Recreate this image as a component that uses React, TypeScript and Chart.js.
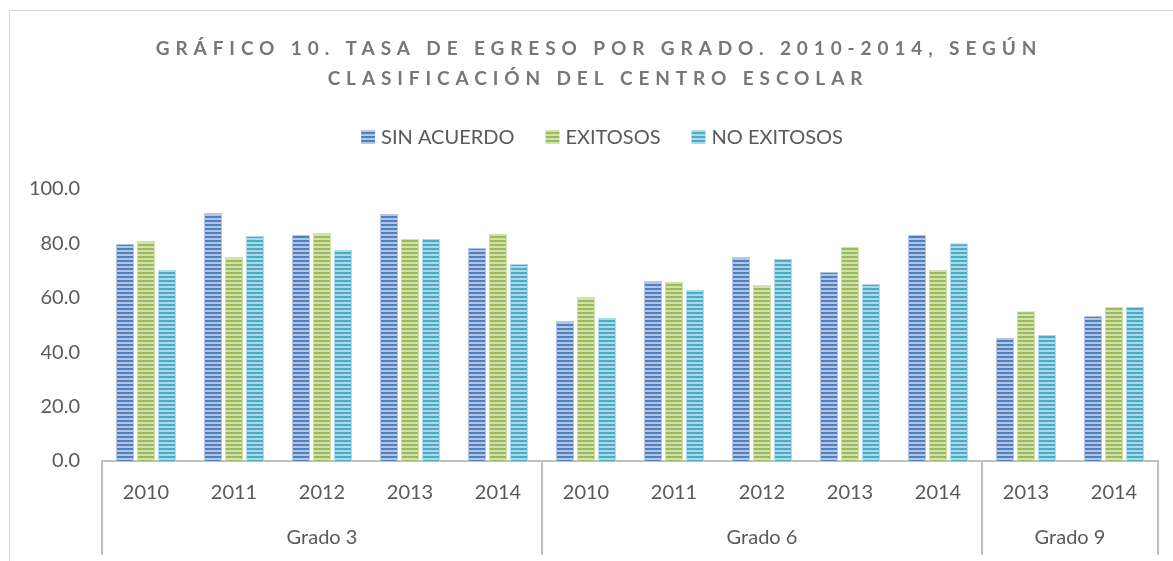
import React, { useEffect, useRef } from 'react';
import { Chart, registerables } from 'chart.js';

Chart.register(...registerables);

// ---- data ----
const yearLabels = ['2010', '2011', '2012', '2013', '2014', '2010', '2011', '2012', '2013', '2014', '2013', '2014'];
const gradeOfCategory = ['Grado 3', 'Grado 3', 'Grado 3', 'Grado 3', 'Grado 3', 'Grado 6', 'Grado 6', 'Grado 6', 'Grado 6', 'Grado 6', 'Grado 9', 'Grado 9'];
const gradeNames = ['Grado 3', 'Grado 6', 'Grado 9'];
const seriesNames = ['SIN ACUERDO', 'EXITOSOS', 'NO EXITOSOS'];
const sinAcuerdo = [79.8, 91.2, 83.1, 90.8, 78.3, 51.5, 66.2, 75.0, 69.5, 83.1, 45.2, 53.3];
const exitosos = [80.9, 75.0, 83.8, 81.6, 83.5, 60.3, 65.8, 64.7, 78.7, 70.2, 55.1, 56.6];
const noExitosos = [70.2, 82.7, 77.6, 81.6, 72.4, 52.6, 62.9, 74.3, 65.1, 80.1, 46.3, 56.6];
const yMin = 0;
const yMax = 100;
const yStep = 20;
const titleLines = ['GRÁFICO 10. TASA DE EGRESO POR GRADO. 2010-2014, SEGÚN', 'CLASIFICACIÓN DEL CENTRO ESCOLAR'];

// ---- styles ----
const darkColors = ['#4F7FC0', '#9BBB59', '#4BACC6'];
const lightColors = ['#B2C7E6', '#D2E1B0', '#ACD9E7'];
const FONT = 'Lato, "Open Sans", sans-serif';
const TEXT = '#595959';
const AXIS = '#BFBFBF';

function stripes(dark: string, light: string): CanvasPattern | string {
  const c = document.createElement('canvas');
  c.width = 4;
  c.height = 4;
  const x = c.getContext('2d');
  if (!x) return dark;
  x.fillStyle = dark;
  x.fillRect(0, 0, 4, 2);
  x.fillStyle = light;
  x.fillRect(0, 2, 4, 2);
  return x.createPattern(c, 'repeat') || dark;
}

const decorPlugin = {
  id: 'decor',
  afterDraw(chart: any) {
    const ctx: CanvasRenderingContext2D = chart.ctx;
    const xs = chart.scales.x;
    const area = chart.chartArea;
    ctx.save();

    // outer frame
    ctx.strokeStyle = '#D9D9D9';
    ctx.lineWidth = 1;
    ctx.beginPath();
    ctx.moveTo(9.5, chart.height);
    ctx.lineTo(9.5, 10.5);
    ctx.lineTo(chart.width, 10.5);
    ctx.stroke();

    // title
    ctx.fillStyle = '#777777';
    ctx.font = `bold 19px ${FONT}`;
    (ctx as any).letterSpacing = '5.9px';
    ctx.textAlign = 'center';
    ctx.textBaseline = 'middle';
    ctx.fillText(titleLines[0], 599, 49);
    ctx.fillText(titleLines[1], 598, 79);
    (ctx as any).letterSpacing = '0px';

    // legend
    ctx.font = `20px ${FONT}`;
    ctx.textAlign = 'left';
    const box = 14;
    const gapBox = 6;
    const gapItem = 31;
    const widths = chart.data.datasets.map((d: any) => ctx.measureText(d.label).width);
    const total = widths.reduce((a: number, w: number) => a + box + gapBox + w, 0) + gapItem * (widths.length - 1);
    let lx = 602 - total / 2;
    const ly = 137;
    chart.data.datasets.forEach((d: any, i: number) => {
      ctx.fillStyle = d.backgroundColor;
      ctx.fillRect(lx, ly - box / 2, box, box);
      ctx.fillStyle = TEXT;
      ctx.fillText(d.label, lx + box + gapBox, ly + 1);
      lx += box + gapBox + widths[i] + gapItem;
    });

    // group separators and labels
    const n = gradeOfCategory.length;
    const edge = (i: number) => {
      if (i <= 0) return xs.left;
      if (i >= n) return xs.right;
      return (xs.getPixelForValue(i - 1) + xs.getPixelForValue(i)) / 2;
    };
    ctx.strokeStyle = AXIS;
    ctx.lineWidth = 2;
    ctx.fillStyle = TEXT;
    ctx.textAlign = 'center';
    ctx.font = `20px ${FONT}`;
    gradeNames.forEach((g) => {
      const first = gradeOfCategory.indexOf(g);
      const last = gradeOfCategory.lastIndexOf(g);
      const l = edge(first);
      const r = edge(last + 1);
      [l, r].forEach((px) => {
        ctx.beginPath();
        ctx.moveTo(px, area.bottom);
        ctx.lineTo(px, 555);
        ctx.stroke();
      });
      ctx.fillText(g, (l + r) / 2, 538);
    });
    ctx.restore();
  },
};

export default function App() {
  const ref = useRef<HTMLCanvasElement | null>(null);
  useEffect(() => {
    if (!ref.current) return;
    const series = [sinAcuerdo, exitosos, noExitosos];
    const chart = new Chart(ref.current, {
      type: 'bar',
      data: {
        labels: yearLabels,
        datasets: series.map((vals, i) => ({
          label: seriesNames[i],
          data: vals,
          backgroundColor: stripes(darkColors[i], lightColors[i]) as any,
          borderColor: lightColors[i],
          borderWidth: { left: 1, right: 1, top: 1, bottom: 0 },
          borderSkipped: 'bottom',
          categoryPercentage: 0.716,
          barPercentage: 0.857,
        })),
      },
      options: {
        responsive: false,
        animation: false,
        layout: { padding: { top: 189, right: 15, bottom: 0, left: 0 } },
        plugins: {
          legend: { display: false },
          title: { display: false },
          tooltip: { enabled: false },
        },
        scales: {
          x: {
            grid: { display: false, drawTicks: false },
            border: { display: true, color: AXIS, width: 2 },
            ticks: { color: TEXT, font: { family: FONT, size: 20 }, padding: 20, maxRotation: 0, autoSkip: false },
            afterFit: (s: any) => {
              s.height = 100;
            },
          },
          y: {
            min: yMin,
            max: yMax,
            grid: { display: false, drawTicks: false },
            border: { display: false },
            ticks: {
              stepSize: yStep,
              color: TEXT,
              font: { family: FONT, size: 20 },
              padding: 22,
              callback: (v: any) => Number(v).toFixed(1),
            },
            afterFit: (s: any) => {
              s.width = 102;
            },
          },
        },
      },
      plugins: [decorPlugin],
    });
    return () => chart.destroy();
  }, []);
  return (
    <canvas
      ref={ref}
      width={1173}
      height={561}
      style={{ position: 'absolute', left: 0, top: 0, width: 1173, height: 561, background: '#FFFFFF' }}
    />
  );
}
